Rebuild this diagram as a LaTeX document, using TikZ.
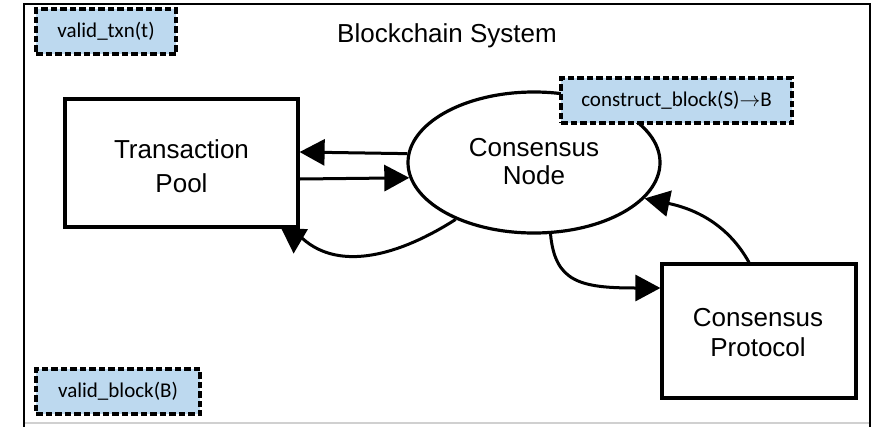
\documentclass[tikz,border=0pt]{standalone}
\usepackage{fontspec}
\setmainfont{Liberation Sans}
\newfontfamily\lblfont{Carlito}
\usetikzlibrary{arrows.meta,shapes.geometric}
\definecolor{lblue}{HTML}{BDD9EF}
\definecolor{fgray}{HTML}{D0D0D0}
\begin{document}
\begin{tikzpicture}[x=1pt,y=-1pt,
  mainbox/.style={draw,rectangle,line width=3.2pt,inner sep=0pt},
  ellnode/.style={draw,ellipse,line width=3.2pt,inner sep=0pt,minimum width=252pt,minimum height=141pt},
  txt/.style={align=center,inner sep=0pt},
  tag/.style={draw,dash pattern=on 6.5pt off 3pt,line width=3.2pt,fill=lblue,minimum height=45pt,inner sep=0pt,font=\lblfont\fontsize{21}{24}\selectfont},
  conn/.style={line width=3pt,line join=round,-{Triangle[length=25pt,width=26pt]}}]
\useasboundingbox (0,0) rectangle (877,426);
\clip (0,0) rectangle (877,426);
% frame
\draw[fgray,line width=2pt] (24,423) -- (870,423);
\draw[line width=2.6pt] (24,450) -- (24,4) -- (870,4) -- (870,450);
% title
\node[anchor=base,inner sep=0pt,font=\fontsize{26}{30}\selectfont] (title) at (447,42) {Blockchain System};
% main shapes
\node[mainbox,minimum width=233pt,minimum height=128pt] (pool) at (181.5,163) {};
\node[txt,font=\fontsize{26}{34}\selectfont] (pooltxt) at (181.5,166) {Transaction\\Pool};
\node[ellnode] (ell) at (534,162.5) {};
\node[txt,font=\fontsize{26}{28}\selectfont] (elltxt) at (534,161.5) {Consensus\\Node};
\node[mainbox,minimum width=194pt,minimum height=134pt] (proto) at (759,331) {};
\node[txt,font=\fontsize{26}{30}\selectfont] (prototxt) at (758,332.5) {Consensus\\Protocol};
% tags
\node[tag,minimum width=140pt] (vtxn) at (106,31.5) {valid\_txn(t)};
\node[tag,minimum width=231pt] (cblk) at (676.5,100.5) {construct\_block(S)$\rightarrow$B};
\node[tag,minimum width=164pt] (vblk) at (118,391.5) {valid\_block(B)};
% connectors
\coordinate (rejoin) at ([xshift=3pt,yshift=-10pt]pool.south east);
\coordinate (reback) at ([xshift=-5pt,yshift=1pt]pool.south east);
\coordinate (retip) at ([xshift=-6pt,yshift=-25pt]pool.south east);
\draw[conn] (ell.176) -- ([yshift=11pt]pool.east);
\draw[conn] ([yshift=-16pt]pool.east) -- (ell.187);
\draw[conn] (ell.216) .. controls (400,255) and (340,272) .. (rejoin) -- (reback) -- (retip);
\draw[conn] (ell.283) .. controls (555,282) and (580,288) .. ([yshift=43pt]proto.west);
\draw[conn] ([xshift=-10pt]proto.north) .. controls (730,228) and (700,210) .. (ell.342);
\end{tikzpicture}
\end{document}
